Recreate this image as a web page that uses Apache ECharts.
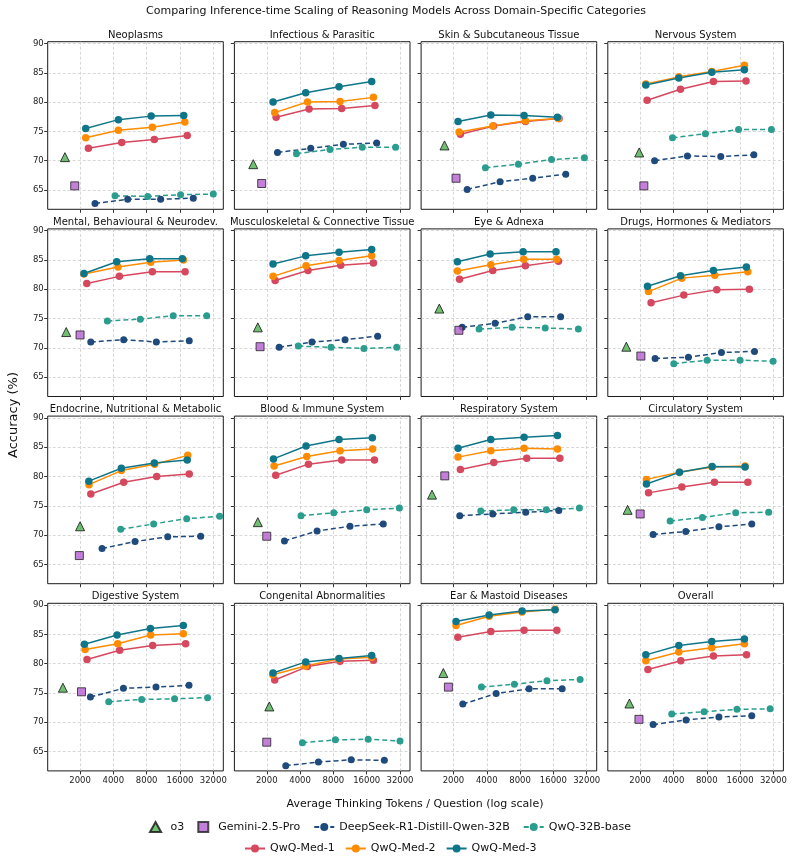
<!DOCTYPE html>
<html lang="en">
<head>
<meta charset="UTF-8">
<title>Inference-time Scaling by Category</title>
<style>
  html, body { margin: 0; padding: 0; background: #fff; }
  #chart { width: 792px; height: 862px; }
</style>
</head>
<body>
<div id="chart"></div>
<script src="https://cdn.jsdelivr.net/npm/echarts@6/dist/echarts.min.js"></script>
<script type="text/javascript">

    // ---- data ----
    var panelNames = [
        'Neoplasms', 'Infectious & Parasitic', 'Skin & Subcutaneous Tissue', 'Nervous System',
        'Mental, Behavioural & Neurodev.', 'Musculoskeletal & Connective Tissue', 'Eye & Adnexa', 'Drugs, Hormones & Mediators',
        'Endocrine, Nutritional & Metabolic', 'Blood & Immune System', 'Respiratory System', 'Circulatory System',
        'Digestive System', 'Congenital Abnormalities', 'Ear & Mastoid Diseases', 'Overall'
    ];
    var xTicks = [2000, 4000, 8000, 16000, 32000];
    var yTicks = [65, 70, 75, 80, 85, 90];

    var o3Tokens = [1460, 1510, 1660, 1960, 1500, 1660, 1490, 1500, 2000, 1660, 1280, 1540, 1400, 2110, 1620, 1600];
    var o3Acc    = [70.6, 69.4, 72.6, 71.4, 72.7, 73.5, 76.7, 70.2, 71.5, 72.2, 76.9, 74.3, 75.9, 72.7, 78.4, 73.2];

    var geminiTokens = [1790, 1800, 2110, 2160, 2000, 1740, 2240, 2030, 1970, 2000, 1670, 2000, 2060, 2000, 1800, 1950];
    var geminiAcc    = [65.7, 66.1, 67.0, 65.7, 72.2, 70.2, 73.0, 68.6, 66.5, 69.8, 80.1, 73.6, 75.2, 66.6, 76.0, 70.5];

    var deepseekTokens = [
        [2730, 5390, 10700, 21100], [2500, 4990, 9850, 19700], [2660, 5280, 10400, 20700], [2700, 5350, 10700, 21300],
        [2500, 4960, 9780, 19400], [2590, 5130, 10200, 20100], [2400, 4760, 9380, 18600], [2730, 5460, 10850, 21600],
        [3160, 6280, 12400, 24600], [2890, 5700, 11300, 22600], [2280, 4530, 9000, 17900], [2620, 5170, 10300, 20400],
        [2480, 4930, 9710, 19300], [2970, 5860, 11600, 23100], [2430, 4860, 9650, 19200], [2620, 5200, 10300, 20400]
    ];
    var deepseekAcc = [
        [62.7, 63.4, 63.4, 63.6], [71.4, 72.1, 72.8, 73.0], [65.1, 66.4, 67.0, 67.7], [70.0, 70.8, 70.7, 71.0],
        [71.0, 71.4, 71.0, 71.2], [70.1, 71.0, 71.4, 72.0], [73.5, 74.2, 75.3, 75.3], [68.2, 68.4, 69.2, 69.4],
        [67.7, 68.9, 69.7, 69.8], [69.0, 70.7, 71.5, 71.9], [73.3, 73.6, 73.9, 74.2], [70.1, 70.6, 71.4, 71.9],
        [74.3, 75.8, 76.0, 76.3], [62.6, 63.2, 63.6, 63.5], [73.1, 74.9, 75.7, 75.7], [69.6, 70.4, 70.9, 71.1]
    ];

    var baseTokens = [
        [4140, 8170, 16200, 32000], [3710, 7460, 14600, 29200], [3890, 7730, 15400, 30500], [3920, 7780, 15500, 30700],
        [3530, 7010, 13900, 27900], [3860, 7620, 15100, 29900], [3410, 6770, 13500, 26900], [4030, 8060, 16000, 31800],
        [4660, 9250, 18400, 36500], [4080, 8060, 16000, 31600], [3530, 7010, 13800, 27500], [3730, 7310, 14600, 29000],
        [3630, 7210, 14300, 28400], [4200, 8340, 16500, 32000], [3580, 7110, 14000, 27900], [3860, 7570, 15000, 29900]
    ];
    var baseAcc = [
        [64.0, 63.9, 64.2, 64.3], [71.2, 71.9, 72.3, 72.3], [68.8, 69.4, 70.2, 70.5], [73.9, 74.6, 75.3, 75.3],
        [74.6, 74.9, 75.5, 75.5], [70.3, 70.1, 69.9, 70.1], [73.2, 73.5, 73.4, 73.2], [67.3, 67.9, 67.9, 67.7],
        [71.0, 71.9, 72.8, 73.2], [73.3, 73.8, 74.3, 74.6], [74.1, 74.3, 74.3, 74.6], [72.4, 73.0, 73.8, 73.9],
        [73.5, 73.9, 74.0, 74.2], [66.5, 67.0, 67.1, 66.8], [76.0, 76.5, 77.1, 77.3], [71.4, 71.8, 72.2, 72.3]
    ];

    var med1Tokens = [
        [2380, 4760, 9380, 18600], [2430, 4820, 9510, 19000], [2310, 4600, 8940, 18000], [2310, 4630, 9190, 18100],
        [2300, 4530, 9000, 17800], [2380, 4720, 9320, 18400], [2270, 4530, 8940, 17800], [2510, 4960, 9850, 19400],
        [2500, 4960, 9850, 19400], [2410, 4760, 9510, 18800], [2310, 4630, 9190, 18300], [2380, 4760, 9380, 18800],
        [2310, 4560, 9060, 18000], [2360, 4660, 9190, 18400], [2190, 4350, 8690, 17200], [2350, 4660, 9190, 18300]
    ];
    var med1Acc = [
        [72.1, 73.1, 73.6, 74.3], [77.4, 78.8, 78.9, 79.4], [74.5, 75.9, 76.7, 77.2], [80.3, 82.2, 83.5, 83.6],
        [81.0, 82.2, 83.0, 83.0], [81.5, 83.2, 84.1, 84.5], [81.7, 83.2, 84.0, 84.8], [77.7, 79.0, 79.9, 80.0],
        [77.0, 79.0, 80.0, 80.4], [80.2, 82.1, 82.8, 82.8], [81.2, 82.4, 83.1, 83.1], [77.2, 78.2, 79.0, 79.0],
        [80.7, 82.3, 83.1, 83.4], [77.2, 79.5, 80.4, 80.6], [84.5, 85.5, 85.7, 85.7], [79.0, 80.5, 81.3, 81.5]
    ];

    var med2Tokens = [
        [2250, 4440, 9000, 17700], [2360, 4660, 9190, 18400], [2250, 4530, 8940, 17750], [2250, 4470, 8900, 17500],
        [2170, 4410, 8690, 17200], [2280, 4530, 9000, 17750], [2170, 4350, 8630, 17150], [2380, 4760, 9450, 18800],
        [2410, 4720, 9450, 18800], [2330, 4600, 9190, 18100], [2200, 4350, 8690, 17400], [2280, 4530, 8940, 17750],
        [2220, 4380, 8690, 17150], [2270, 4470, 8940, 17750], [2110, 4200, 8340, 16560], [2250, 4470, 8880, 17500]
    ];
    var med2Acc = [
        [73.9, 75.2, 75.7, 76.6], [78.2, 80.0, 80.1, 80.8], [74.9, 75.9, 76.8, 77.2], [83.1, 84.3, 85.2, 86.3],
        [82.6, 83.8, 84.6, 85.0], [82.2, 84.0, 84.9, 85.7], [83.1, 84.2, 85.1, 85.1], [79.6, 81.9, 82.4, 83.0],
        [78.6, 81.0, 82.1, 83.6], [81.8, 83.4, 84.4, 84.7], [83.3, 84.4, 84.8, 84.7], [79.5, 80.7, 81.6, 81.8],
        [82.4, 83.4, 84.9, 85.1], [78.1, 79.6, 80.8, 81.1], [86.5, 88.1, 88.8, 89.3], [80.5, 82.0, 82.7, 83.4]
    ];

    var med3Tokens = [
        [2250, 4440, 8780, 17300], [2280, 4500, 9000, 17750], [2200, 4350, 8690, 17400], [2250, 4470, 8880, 17500],
        [2170, 4290, 8520, 16800], [2280, 4500, 9000, 17750], [2170, 4290, 8520, 16900], [2330, 4630, 9190, 18250],
        [2400, 4720, 9380, 18600], [2300, 4530, 9000, 18000], [2200, 4350, 8690, 17400], [2280, 4530, 8940, 17750],
        [2190, 4320, 8640, 17150], [2280, 4500, 9000, 17750], [2110, 4200, 8340, 16560], [2250, 4470, 8880, 17500]
    ];
    var med3Acc = [
        [75.5, 77.0, 77.6, 77.7], [80.0, 81.6, 82.6, 83.5], [76.7, 77.8, 77.7, 77.4], [82.9, 84.1, 85.1, 85.5],
        [82.7, 84.7, 85.2, 85.2], [84.3, 85.7, 86.3, 86.8], [84.7, 86.0, 86.4, 86.4], [80.5, 82.3, 83.2, 83.8],
        [79.2, 81.4, 82.3, 82.8], [83.0, 85.2, 86.3, 86.6], [84.8, 86.3, 86.7, 87.0], [78.7, 80.7, 81.7, 81.6],
        [83.3, 84.9, 86.0, 86.5], [78.4, 80.3, 80.9, 81.4], [87.2, 88.3, 89.0, 89.2], [81.5, 83.1, 83.8, 84.2]
    ];

    // ---- layout ----
    var FONT = '"DejaVu Sans", sans-serif';
    var colLeft = [47.7, 234.4, 421.1, 607.8];
    var rowTop = [41.7, 228.9, 416.1, 603.3];
    var W = 175.6, H = 167.6;

    var lineSeries = [
        {name: 'DeepSeek-R1-Distill-Qwen-32B', tokens: deepseekTokens, acc: deepseekAcc, color: '#1f4a7c', dashed: true},
        {name: 'QwQ-32B-base', tokens: baseTokens, acc: baseAcc, color: '#2a9d8f', dashed: true},
        {name: 'QwQ-Med-1', tokens: med1Tokens, acc: med1Acc, color: '#d6485e', dashed: false},
        {name: 'QwQ-Med-2', tokens: med2Tokens, acc: med2Acc, color: '#ff8c00', dashed: false},
        {name: 'QwQ-Med-3', tokens: med3Tokens, acc: med3Acc, color: '#0f7689', dashed: false}
    ];

    var grids = [], xAxes = [], yAxes = [], series = [], graphics = [];
    var gridLine = {show: true, lineStyle: {color: '#cdcdcd', width: 0.8, type: [3, 2]}};

    for (var i = 0; i < panelNames.length; i++) {
        var r = Math.floor(i / 4), c = i % 4;
        grids.push({
            left: colLeft[c], top: rowTop[r], width: W, height: H,
            show: true, borderColor: '#1a1a1a', borderWidth: 1, backgroundColor: 'transparent'
        });
        xAxes.push({
            type: 'log', logBase: 2, gridIndex: i, min: 1020, max: 39400,
            axisLine: {show: false},
            axisTick: {show: true, length: 3.5, customValues: xTicks, lineStyle: {color: '#333'}},
            axisLabel: {show: r === 3, customValues: xTicks, color: '#222', fontSize: 8.5, fontFamily: FONT, margin: 5,
                formatter: function (v) { return String(Math.round(v)); }},
            splitLine: gridLine
        });
        yAxes.push({
            type: 'value', gridIndex: i, min: 61.7, max: 90.3,
            axisLine: {show: false},
            axisTick: {show: true, length: 3.5, customValues: yTicks, lineStyle: {color: '#333'}},
            axisLabel: {show: c === 0, customValues: yTicks, color: '#222', fontSize: 8.5, fontFamily: FONT, margin: 4},
            splitLine: gridLine
        });
        graphics.push({
            type: 'text', x: colLeft[c] + W / 2, y: rowTop[r] - 6.5,
            style: {text: panelNames[i], textAlign: 'center', textVerticalAlign: 'middle',
                font: '10px ' + FONT, fill: '#111'}
        });

        lineSeries.forEach(function (s) {
            var pts = s.tokens[i].map(function (t, k) { return [t, s.acc[i][k]]; });
            series.push({
                name: s.name, type: 'line', xAxisIndex: i, yAxisIndex: i, data: pts,
                symbol: 'circle', symbolSize: s.dashed ? 7 : 7.5,
                lineStyle: {color: s.color, width: 1.5, type: s.dashed ? [5, 3] : 'solid'},
                itemStyle: {color: s.color},
                z: 3
            });
        });
        series.push({
            name: 'o3', type: 'scatter', xAxisIndex: i, yAxisIndex: i,
            data: [[o3Tokens[i], o3Acc[i]]], symbol: 'triangle', symbolSize: 9,
            itemStyle: {color: '#4caf50', borderColor: '#111', borderWidth: 1}, z: 4
        });
        series.push({
            name: 'Gemini-2.5-Pro', type: 'scatter', xAxisIndex: i, yAxisIndex: i,
            data: [[geminiTokens[i], geminiAcc[i]]], symbol: 'rect', symbolSize: 8,
            itemStyle: {color: '#b45fcf', borderColor: '#222', borderWidth: 1}, z: 4
        });
    }

    graphics.push({
        type: 'text', x: 396, y: 11,
        style: {text: 'Comparing Inference-time Scaling of Reasoning Models Across Domain-Specific Categories',
            textAlign: 'center', textVerticalAlign: 'middle', font: '11px ' + FONT, fill: '#111'}
    });
    graphics.push({
        type: 'text', x: 415, y: 804,
        style: {text: 'Average Thinking Tokens / Question (log scale)',
            textAlign: 'center', textVerticalAlign: 'middle', font: '11px ' + FONT, fill: '#111'}
    });
    graphics.push({
        type: 'text', x: 14, y: 415, rotation: Math.PI / 2,
        style: {text: 'Accuracy (%)', textAlign: 'center', textVerticalAlign: 'middle',
            font: '13px ' + FONT, fill: '#111'}
    });

    var legendBase = {
        itemWidth: 20, itemHeight: 10, itemGap: 10, padding: 0, symbolKeepAspect: true,
        textStyle: {fontSize: 11, fontFamily: FONT, color: '#111'}
    };

    var option = {
        animation: false,
        backgroundColor: '#fff',
        grid: grids,
        xAxis: xAxes,
        yAxis: yAxes,
        series: series,
        graphic: graphics,
        legend: [
            Object.assign({}, legendBase, {left: 149, top: 821, itemGap: 13,
                data: [
                    {name: 'o3', icon: 'path://M5,0L10,9L0,9Z'},
                    {name: 'Gemini-2.5-Pro', icon: 'path://M0,0L9,0L9,9L0,9Z'},
                    'DeepSeek-R1-Distill-Qwen-32B', 'QwQ-32B-base'
                ]}),
            Object.assign({}, legendBase, {left: 244, top: 843,
                data: ['QwQ-Med-1', 'QwQ-Med-2', 'QwQ-Med-3']})
        ]
    };

    var myChart = echarts.init(document.getElementById('chart'));
    myChart.setOption(option);
</script>
</body>
</html>
